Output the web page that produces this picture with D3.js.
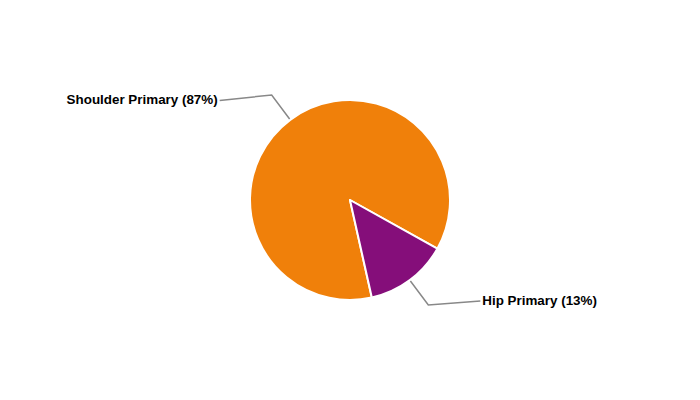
<!DOCTYPE html>
<html><head><meta charset="utf-8">
<script src="https://cdn.jsdelivr.net/npm/d3@7"></script>
<style>html,body{margin:0;padding:0;background:#fff;}svg{display:block;}</style>
</head><body>
<svg id="chart" width="700" height="400"></svg>
<script>
const categories = ["Shoulder Primary", "Hip Primary"];
const values = [86.6, 13.4];
const colors = ["#F0800A", "#850E7A"];

const W = 700, H = 400, cx = 350, cy = 200, R = 100;
const svg = d3.select("#chart");
const g = svg.append("g").attr("transform", `translate(${cx},${cy})`);

const total = d3.sum(values);
const data = categories.map((c, i) => ({ name: c, value: values[i], color: colors[i] }));
const startA = 167.4 * Math.PI / 180;
const pie = d3.pie().value(d => d.value).sort(null).startAngle(startA).endAngle(startA + 2 * Math.PI);
const arcs = pie(data);
const arc = d3.arc().innerRadius(0).outerRadius(R);

g.selectAll("path.slice").data(arcs).enter().append("path")
  .attr("class", "slice")
  .attr("d", arc)
  .attr("fill", d => d.data.color)
  .attr("stroke", "#fff")
  .attr("stroke-width", 2)
  .attr("stroke-linejoin", "round");

const r1 = 101, r2 = 131, ext = 52;
const labelDy = [5.5, -4];
arcs.forEach((a, i) => {
  const m = (a.startAngle + a.endAngle) / 2;
  const sx = Math.sin(m), sy = -Math.cos(m);
  const p1 = [sx * r1, sy * r1];
  const p2 = [sx * r2, sy * r2];
  const side = sx < 0 ? -1 : 1;
  const p3 = [p2[0] + side * ext, p2[1] + labelDy[i]];
  g.append("polyline")
    .attr("points", [p1, p2, p3].map(p => p.join(",")).join(" "))
    .attr("fill", "none")
    .attr("stroke", "#888")
    .attr("stroke-width", 1.5);
  const pct = Math.round(a.data.value / total * 100);
  g.append("text")
    .attr("x", p3[0] + side * 2)
    .attr("y", p3[1] - 1)
    .attr("dy", "0.35em")
    .attr("text-anchor", side < 0 ? "end" : "start")
    .attr("font-family", "Arial, 'Liberation Sans', sans-serif")
    .attr("font-weight", "bold")
    .attr("font-size", 13.4)
    .attr("fill", "#000")
    .text(`${a.data.name} (${pct}%)`);
});
</script>
</body></html>
